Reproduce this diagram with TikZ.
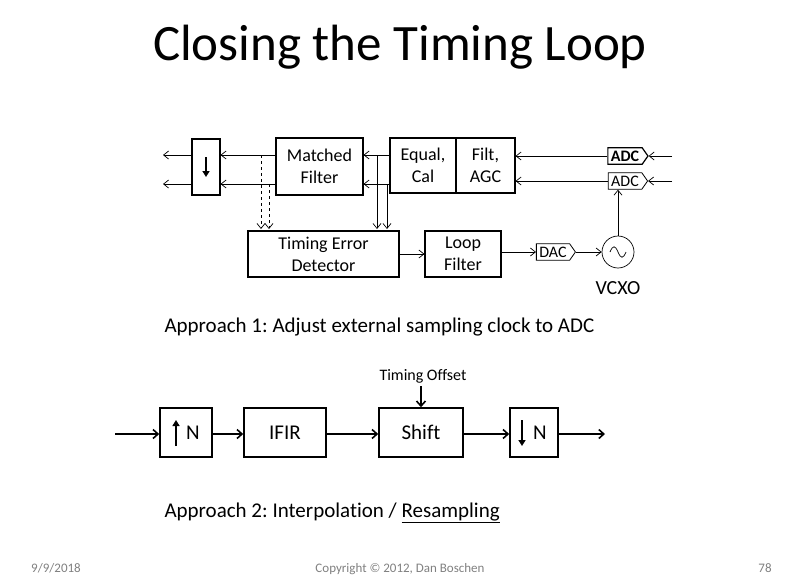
\documentclass[tikz,border=0pt]{standalone}
\usepackage{fontspec}
\setmainfont{Carlito}[Ligatures={NoCommon}]
\usetikzlibrary{arrows.meta,shapes.symbols}
\begin{document}
\frenchspacing
\begin{tikzpicture}[x=1pt,y=-1pt,
  blk/.style={draw,line width=1.1pt,inner sep=0pt,font=\fontsize{18}{22}\selectfont,align=center},
  bblk/.style={draw,line width=1.6pt,inner sep=0pt,font=\fontsize{21}{24}\selectfont},
  thin/.style={line width=0.7pt,-{Straight Barb[length=5pt,width=8pt]}},
  thick/.style={line width=1.6pt,-{Straight Barb[length=5pt,width=9pt]}},
  sig/.style={draw,signal,signal to=east,signal pointer angle=110,inner xsep=3pt,inner ysep=3pt}]
\useasboundingbox (0,0) rectangle (800,587);
\node (title) at (400,47) {\fontsize{51}{60}\selectfont Closing the Timing Loop};
% top diagram
\node[blk,minimum width=28pt,minimum height=56pt] (ds) at (206,167) {};
\draw[line width=2pt,-{Triangle[length=6pt,width=7pt]}] (206,157) -- (206,177);
\node[blk,minimum width=87pt,minimum height=57pt] (mf) at (319.5,166.5) {Matched\\Filter};
\node[blk,minimum width=66pt,minimum height=55pt] (eq) at (423,165.5) {Equal,\\Cal};
\node[blk,minimum width=59pt,minimum height=55pt] (agc) at (485.5,165.5) {Filt,\\AGC};
\node[sig,line width=1.2pt] (adc1) at (625,156) {\fontsize{16}{18}\selectfont\bfseries ADC};
\node[sig,line width=0.8pt] (adc2) at (625,181) {\fontsize{16}{18}\selectfont ADC};
\node[blk,minimum width=151pt,minimum height=46pt] (ted) at (323.5,254) {Timing Error\\Detector};
\node[blk,minimum width=76pt,minimum height=46pt] (lf) at (463,254) {Loop\\Filter};
\node[sig,line width=0.8pt] (dac) at (553,252) {\fontsize{16}{18}\selectfont DAC};
\node[draw,circle,line width=0.7pt,minimum size=32pt,inner sep=0pt] (vco) at (618,252) {};
\draw[line width=0.7pt] (610,252) .. controls (613,245) and (615,245) .. (618,252) .. controls (621,259) and (623,259) .. (626,252);
\node[font=\fontsize{20}{22}\selectfont] (vlab) at (618,288) {VCXO};
\coordinate (o1) at (163,155); \coordinate (o2) at (163,184);
\coordinate (i1) at (672,155); \coordinate (i2) at (672,181);
\draw[thin] (ds.west |- o1) -- (o1);
\draw[thin] (ds.west |- o2) -- (o2);
\draw[thin] (mf.west |- o1) -- (ds.east |- o1);
\draw[thin] (mf.west |- o2) -- (ds.east |- o2);
\draw[thin] (eq.west |- o1) -- (mf.east |- o1);
\draw[thin] (eq.west |- o2) -- (mf.east |- o2);
\draw[thin] (adc1.west) -- (agc.east |- adc1.west);
\draw[thin] (adc2.west) -- (agc.east |- adc2.west);
\draw[thin] (i1 |- adc1.east) -- (adc1.east);
\draw[thin] (i2 |- adc2.east) -- (adc2.east);
\draw[thin,dashed] (261,155) -- (261,229);
\draw[thin,dashed] (269,184) -- (269,229);
\draw[thin] (377,155) -- (377,229);
\draw[thin] (387,185) -- (387,229);
\draw[thin] (ted.east) -- (lf.west);
\draw[thin] (lf.east |- dac.west) -- (dac.west);
\draw[thin] (dac.east) -- (vco.west);
\draw[thin] (vco.north) -- (vco.north |- adc2.south);
\node[anchor=west,font=\fontsize{21}{24}\selectfont] (ap1) at (161,327) {Approach 1: Adjust external sampling clock to ADC};
% bottom diagram
\node[bblk,minimum width=52pt,minimum height=49pt] (up) at (186,432.5) {\hspace*{14pt}N};
\draw[line width=2pt,-{Triangle[length=6pt,width=7pt]}] (176,446) -- (176,420);
\node[bblk,minimum width=82pt,minimum height=49pt] (ifir) at (285,432.5) {IFIR};
\node[bblk,minimum width=84pt,minimum height=49pt] (sh) at (421,432.5) {Shift};
\node[bblk,minimum width=48pt,minimum height=49pt] (dn) at (534,432.5) {\hspace*{12pt}N};
\draw[line width=2pt,-{Triangle[length=6pt,width=7pt]}] (522,420) -- (522,446);
\node[font=\fontsize{16}{18}\selectfont] (to) at (423,376) {Timing Offset};
\coordinate (bin) at (115,434); \coordinate (bout) at (605,434);
\draw[thick] (bin) -- (up.west |- bin);
\draw[thick] (up.east |- bin) -- (ifir.west |- bin);
\draw[thick] (ifir.east |- bin) -- (sh.west |- bin);
\draw[thick] (sh.east |- bin) -- (dn.west |- bin);
\draw[thick] (dn.east |- bin) -- (bout);
\draw[thick] (to.south) ++(-2,0) coordinate (tt) -- (tt |- sh.north);
\node[anchor=west,font=\fontsize{21}{24}\selectfont] (ap2) at (161,513) {Approach 2: Interpolation / \underline{Resampling}};
\node[anchor=base,text=gray,font=\fontsize{13}{15}\selectfont] (f1) at (56,572) {9/9/2018};
\node[anchor=base,text=gray,font=\fontsize{13}{15}\selectfont] (f2) at (400,572) {Copyright © 2012, Dan Boschen};
\node[anchor=base,text=gray,font=\fontsize{13}{15}\selectfont] (f3) at (765,572) {78};
\end{tikzpicture}
\end{document}
